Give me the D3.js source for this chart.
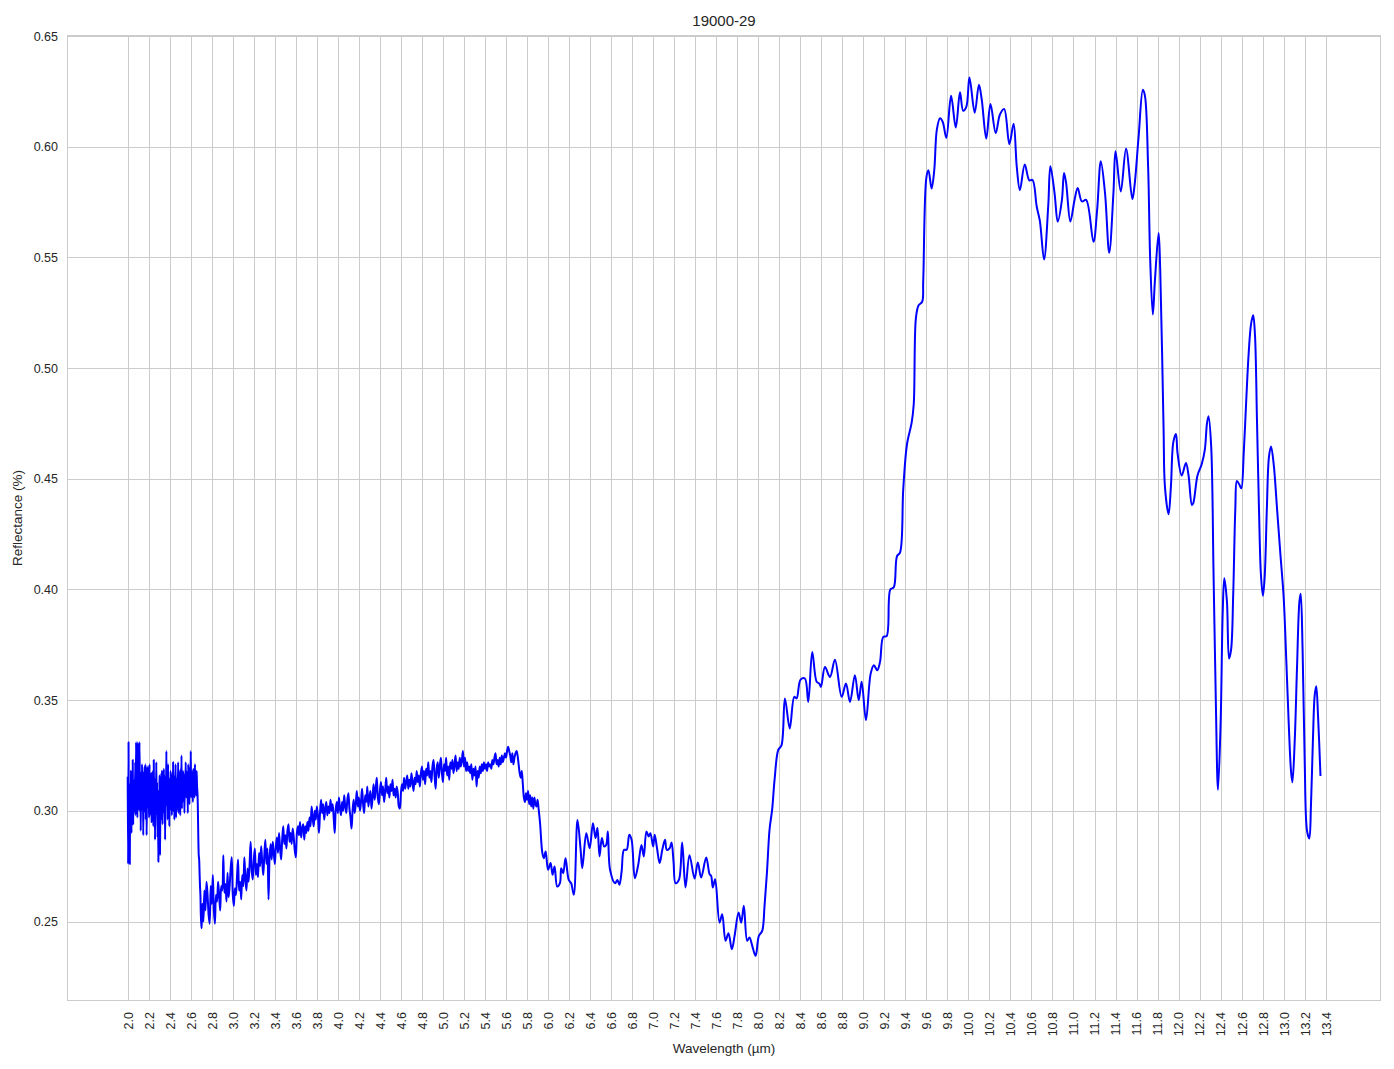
<!DOCTYPE html>
<html>
<head>
<meta charset="utf-8">
<script src="https://cdn.jsdelivr.net/npm/d3@7"></script>
<style>
  html, body { margin: 0; padding: 0; background: #ffffff; }
  svg { display: block; font-family: "Liberation Sans", Arial, sans-serif; }
</style>
</head>
<body>
<svg id="chart" width="1394" height="1069"></svg>
<script>
const chartTitle = "19000-29";
const xLabel = "Wavelength (µm)";
const yLabel = "Reflectance (%)";

const xTickValues = [2.0,2.2,2.4,2.6,2.8,3.0,3.2,3.4,3.6,3.8,4.0,4.2,4.4,4.6,4.8,5.0,5.2,5.4,5.6,5.8,6.0,6.2,6.4,6.6,6.8,7.0,7.2,7.4,7.6,7.8,8.0,8.2,8.4,8.6,8.8,9.0,9.2,9.4,9.6,9.8,10.0,10.2,10.4,10.6,10.8,11.0,11.2,11.4,11.6,11.8,12.0,12.2,12.4,12.6,12.8,13.0,13.2,13.4];
const yTickValues = [0.25,0.30,0.35,0.40,0.45,0.50,0.55,0.60,0.65];

// [wavelength (µm), reflectance]
const band1 = [
[2.000,0.315],[2.004,0.276],[2.008,0.331],[2.012,0.277],[2.016,0.300],[2.020,0.276],[2.024,0.312],[2.028,0.296],[2.032,0.318],[2.036,0.290],
[2.040,0.312],[2.044,0.297],[2.048,0.323],[2.052,0.294],[2.056,0.307],[2.060,0.299],[2.064,0.314],[2.068,0.301],[2.072,0.322],[2.076,0.298],
[2.080,0.331],[2.084,0.303],[2.088,0.318],[2.092,0.297],[2.096,0.331],[2.100,0.305],[2.104,0.325],[2.108,0.300],[2.112,0.331],[2.116,0.308],
[2.120,0.318],[2.124,0.291],[2.128,0.316],[2.132,0.300],[2.136,0.321],[2.140,0.303],[2.144,0.318],[2.148,0.289],[2.152,0.312],[2.156,0.299],
[2.160,0.320],[2.164,0.302],[2.168,0.321],[2.172,0.296],[2.176,0.320],[2.180,0.289],[2.184,0.311],[2.188,0.301],[2.192,0.320],[2.196,0.306],
[2.200,0.315],[2.204,0.297],[2.208,0.321],[2.212,0.299],[2.216,0.314],[2.220,0.298],[2.224,0.317],[2.228,0.295],[2.232,0.312],[2.236,0.297],
[2.240,0.318],[2.244,0.293],[2.248,0.323],[2.252,0.300],[2.256,0.315],[2.260,0.287],[2.264,0.312],[2.268,0.298],[2.272,0.322],[2.276,0.301],
[2.280,0.313],[2.284,0.288],[2.288,0.306],[2.292,0.277],[2.296,0.309],[2.300,0.300],[2.304,0.316],[2.308,0.280],[2.312,0.310],[2.316,0.302],
[2.320,0.317],[2.324,0.296],[2.328,0.318],[2.332,0.294],[2.336,0.310],[2.340,0.299],[2.344,0.319],[2.348,0.300],[2.352,0.316],[2.356,0.287],
[2.360,0.313],[2.364,0.302],[2.368,0.327],[2.372,0.303],[2.376,0.317],[2.380,0.296],[2.384,0.321],[2.388,0.301],[2.392,0.315],[2.396,0.293],
[2.400,0.312],[2.404,0.300],[2.408,0.318],[2.412,0.303],[2.416,0.314],[2.420,0.298],[2.424,0.317],[2.428,0.302],[2.432,0.322],[2.436,0.300],
[2.440,0.316],[2.444,0.296],[2.448,0.313],[2.452,0.305],[2.456,0.321],[2.460,0.297],[2.464,0.310],[2.468,0.300],[2.472,0.315],[2.476,0.303],
[2.480,0.322],[2.484,0.299],[2.488,0.318],[2.492,0.302],[2.496,0.312],[2.500,0.298],[2.504,0.319],[2.508,0.303],[2.512,0.325],[2.516,0.301],
[2.520,0.316],[2.524,0.304],[2.528,0.318],[2.532,0.305],[2.536,0.313],[2.540,0.299],[2.544,0.317],[2.548,0.308],[2.552,0.322],[2.556,0.306],
[2.560,0.318],[2.564,0.309],[2.568,0.316],[2.572,0.299],[2.576,0.321],[2.580,0.305],[2.584,0.314],[2.588,0.303],[2.592,0.320],[2.596,0.307],
[2.600,0.327],[2.604,0.306],[2.608,0.318],[2.612,0.310],[2.616,0.315],[2.620,0.304],[2.624,0.319],[2.628,0.307],[2.632,0.316],[2.636,0.306],
[2.640,0.321],[2.644,0.309],[2.648,0.315],[2.652,0.307],[2.656,0.318],[2.660,0.311],[2.664,0.308],[2.668,0.300],[2.672,0.288],[2.676,0.280],
[2.680,0.278],[2.684,0.272],[2.688,0.266],[2.692,0.262],[2.696,0.253],[2.700,0.249],[2.704,0.247]
];

const band2 = [
[2.71,0.258],[2.72,0.250],[2.73,0.264],[2.74,0.255],[2.75,0.268],[2.76,0.262],[2.77,0.253],[2.78,0.249],[2.79,0.266],[2.80,0.258],
[2.81,0.271],[2.82,0.255],[2.83,0.249],[2.84,0.262],[2.85,0.259],[2.86,0.268],[2.87,0.262],[2.88,0.255],[2.89,0.266],[2.90,0.264],
[2.91,0.280],[2.92,0.263],[2.93,0.267],[2.94,0.259],[2.95,0.272],[2.96,0.261],[2.97,0.266],[2.98,0.274],[2.99,0.279],[3.00,0.262],
[3.01,0.257],[3.02,0.265],[3.03,0.262],[3.04,0.270],[3.05,0.278],[3.06,0.264],[3.07,0.268],[3.08,0.260],[3.09,0.271],[3.10,0.266],
[3.11,0.279],[3.12,0.269],[3.13,0.264],[3.14,0.274],[3.15,0.268],[3.16,0.276],[3.17,0.286],[3.18,0.273],[3.19,0.269],[3.20,0.278],
[3.21,0.283],[3.22,0.271],[3.23,0.276],[3.24,0.270],[3.25,0.281],[3.26,0.275],[3.27,0.284],[3.28,0.277],[3.29,0.271],[3.30,0.280],
[3.31,0.287],[3.32,0.276],[3.33,0.283],[3.34,0.260],[3.35,0.279],[3.36,0.285],[3.37,0.278],[3.38,0.286],[3.39,0.281],[3.40,0.276],
[3.41,0.284],[3.42,0.288],[3.43,0.281],[3.44,0.290],[3.45,0.283],[3.46,0.278],[3.47,0.287],[3.48,0.293],[3.49,0.285],[3.50,0.289],
[3.51,0.283],[3.52,0.291],[3.53,0.294],[3.54,0.286],[3.55,0.290],[3.56,0.285],[3.57,0.292],[3.58,0.288],[3.59,0.282],[3.60,0.279],
[3.61,0.290],[3.62,0.293],[3.63,0.289],[3.64,0.295],[3.65,0.288],[3.66,0.292],[3.67,0.294],[3.68,0.287],[3.69,0.293],[3.70,0.290],
[3.71,0.295],[3.72,0.291],[3.73,0.297],[3.74,0.293],[3.75,0.302],[3.76,0.297],[3.77,0.293],[3.78,0.300],[3.79,0.296],[3.80,0.302],
[3.81,0.298],[3.82,0.290],[3.83,0.299],[3.84,0.305],[3.85,0.299],[3.86,0.303],[3.87,0.296],[3.88,0.301],[3.89,0.304],[3.90,0.298],
[3.91,0.302],[3.92,0.299],[3.93,0.305],[3.94,0.300],[3.95,0.303],[3.96,0.297],[3.97,0.290],[3.98,0.301],[3.99,0.304],[4.00,0.299]
];

const band3 = [
[4.01,0.306],[4.02,0.301],[4.03,0.298],[4.04,0.304],[4.05,0.300],[4.06,0.307],[4.07,0.302],[4.08,0.299],[4.09,0.305],[4.10,0.308],
[4.11,0.301],[4.12,0.297],[4.13,0.292],[4.14,0.300],[4.15,0.305],[4.16,0.299],[4.17,0.303],[4.18,0.309],[4.19,0.302],[4.20,0.306],
[4.21,0.300],[4.22,0.304],[4.23,0.310],[4.24,0.303],[4.25,0.299],[4.26,0.307],[4.27,0.304],[4.28,0.311],[4.29,0.302],[4.30,0.306],
[4.31,0.309],[4.32,0.301],[4.33,0.306],[4.34,0.312],[4.35,0.305],[4.36,0.310],[4.37,0.315],[4.38,0.306],[4.39,0.303],[4.40,0.309],
[4.41,0.313],[4.42,0.307],[4.43,0.311],[4.44,0.304],[4.45,0.309],[4.46,0.315],[4.47,0.308],[4.48,0.311],[4.49,0.306],[4.50,0.312],
[4.51,0.309],[4.52,0.314],[4.53,0.307],[4.54,0.310],[4.55,0.306],[4.56,0.311],[4.57,0.308],[4.58,0.302],[4.59,0.301],[4.60,0.308],
[4.61,0.312],[4.62,0.309],[4.63,0.315],[4.64,0.310],[4.65,0.313],[4.66,0.316],[4.67,0.310],[4.68,0.314],[4.69,0.311],[4.70,0.317],
[4.71,0.313],[4.72,0.309],[4.73,0.315],[4.74,0.312],[4.75,0.318],[4.76,0.313],[4.77,0.316],[4.78,0.311],[4.79,0.317],[4.80,0.320],
[4.81,0.314],[4.82,0.318],[4.83,0.312],[4.84,0.319],[4.85,0.316],[4.86,0.322],[4.87,0.315],[4.88,0.318],[4.89,0.313],[4.90,0.320],
[4.91,0.323],[4.92,0.316],[4.93,0.310],[4.94,0.319],[4.95,0.322],[4.96,0.315],[4.97,0.320],[4.98,0.324],[4.99,0.317],[5.00,0.313],
[5.01,0.321],[5.02,0.318],[5.03,0.324],[5.04,0.316],[5.05,0.320],[5.06,0.314],[5.07,0.322],[5.08,0.319],[5.09,0.323],[5.10,0.317],
[5.11,0.321],[5.12,0.325],[5.13,0.318],[5.14,0.322],[5.15,0.319],[5.16,0.324],[5.17,0.320],[5.18,0.323],[5.19,0.327],[5.20,0.320],
[5.21,0.324],[5.22,0.318],[5.23,0.322],[5.24,0.318],[5.25,0.320],[5.26,0.317],[5.27,0.321],[5.28,0.314],[5.29,0.319],[5.30,0.316],
[5.31,0.320],[5.32,0.311],[5.33,0.318],[5.34,0.315],[5.35,0.320],[5.36,0.317],[5.37,0.321],[5.38,0.318],[5.39,0.322],[5.40,0.319],
[5.41,0.321],[5.42,0.318],[5.43,0.322],[5.44,0.320],[5.45,0.321],[5.46,0.319],[5.47,0.323],[5.48,0.321],[5.49,0.324],[5.50,0.326],
[5.51,0.321],[5.52,0.323],[5.53,0.320],[5.54,0.324],[5.55,0.321],[5.56,0.325],[5.57,0.322],[5.58,0.324],[5.59,0.326],[5.60,0.324],
[5.61,0.327],[5.62,0.329],[5.63,0.327],[5.64,0.325],[5.65,0.322],[5.66,0.326],[5.67,0.321],[5.68,0.324],[5.69,0.326],[5.70,0.327],
[5.71,0.325],[5.72,0.321],[5.73,0.317],[5.74,0.315],[5.75,0.318],[5.76,0.312],[5.77,0.306],[5.78,0.304],[5.79,0.308],[5.80,0.305],
[5.81,0.309],[5.82,0.303],[5.83,0.307],[5.84,0.302],[5.85,0.306],[5.86,0.301],[5.87,0.306],[5.88,0.303],[5.89,0.302],[5.90,0.305],
[5.91,0.301]
];

const band4 = [
[5.924,0.2944],[5.946,0.2809],[5.960,0.2786],[5.977,0.2816],[6.000,0.2734],[6.024,0.2764],[6.043,0.2711],[6.062,0.2749],[6.087,0.2658],[6.113,0.2673],
[6.125,0.2741],[6.144,0.2718],[6.166,0.2786],[6.197,0.2688],[6.220,0.2673],[6.245,0.2621],[6.280,0.2959],[6.310,0.2824],[6.326,0.2741],[6.364,0.2899],
[6.396,0.2831],[6.427,0.2944],[6.452,0.2877],[6.470,0.2922],[6.490,0.2794],[6.512,0.2877],[6.534,0.2839],[6.553,0.2846],[6.569,0.2907],[6.590,0.2734],
[6.638,0.2673],[6.660,0.2688],[6.679,0.2666],[6.700,0.2726],[6.723,0.2824],[6.748,0.2824],[6.773,0.2892],[6.795,0.2869],[6.826,0.2696],[6.858,0.2756],
[6.889,0.2846],[6.911,0.2794],[6.936,0.2907],[6.958,0.2884],[6.974,0.2899],[7.000,0.2839],[7.015,0.2892],[7.037,0.2831],[7.062,0.2764],[7.087,0.2824],
[7.113,0.2869],[7.130,0.2824],[7.157,0.2831],[7.175,0.2857],[7.194,0.2771],[7.213,0.2673],[7.245,0.2688],[7.276,0.2857],[7.308,0.2654],[7.346,0.2800],
[7.394,0.2694],[7.425,0.2767],[7.457,0.2699],[7.505,0.2789],[7.537,0.2714],[7.552,0.2706],[7.568,0.2654],[7.590,0.2691],[7.632,0.2495],[7.657,0.2533],
[7.689,0.2413],[7.717,0.2447],[7.749,0.2375],[7.775,0.2435],[7.813,0.2541],[7.838,0.2495],[7.863,0.2571],[7.895,0.2413],[7.917,0.2428],[7.943,0.2390],
[7.975,0.2345],[8.006,0.2435],[8.038,0.2458],[8.060,0.2571],[8.083,0.2721],[8.108,0.2917],[8.133,0.3008],[8.156,0.3143],[8.190,0.3274],[8.222,0.3297],
[8.254,0.3508],[8.300,0.3372],[8.343,0.3515],[8.365,0.3508],[8.403,0.3593],[8.444,0.3598],[8.476,0.3492],[8.514,0.3718],[8.556,0.3583],[8.581,0.3575],
[8.597,0.3560],[8.635,0.3650],[8.683,0.3605],[8.730,0.3683],[8.794,0.3515],[8.835,0.3575],[8.873,0.3492],[8.920,0.3613],[8.956,0.3500],[8.984,0.3583],
[9.025,0.3410],[9.070,0.3620],[9.100,0.3658],[9.133,0.3635],[9.159,0.3673],[9.190,0.3786],[9.222,0.3789],[9.257,0.4000],[9.290,0.4010],[9.320,0.4150],
[9.350,0.4168],[9.380,0.4453],[9.415,0.4654],[9.460,0.4754],[9.480,0.4838],[9.500,0.5224],[9.525,0.5283],[9.560,0.5300],[9.570,0.5392],[9.600,0.5861],
[9.620,0.5894],[9.650,0.5811],[9.675,0.5894],[9.700,0.6079],[9.730,0.6129],[9.756,0.6112],[9.790,0.6040],[9.835,0.6230],[9.880,0.6087],[9.920,0.6246],
[9.950,0.6163],[9.980,0.6180],[10.010,0.6313],[10.060,0.6154],[10.100,0.6280],[10.127,0.6213],[10.170,0.6037],[10.210,0.6193],[10.260,0.6062],[10.300,0.6146],
[10.340,0.6171],[10.390,0.6012],[10.430,0.6104],[10.460,0.5911],[10.490,0.5804],[10.536,0.5920],[10.580,0.5848],[10.610,0.5850],[10.650,0.5730],[10.680,0.5665],
[10.720,0.5491],[10.760,0.5736],[10.780,0.5912],[10.820,0.5790],[10.850,0.5662],[10.890,0.5760],[10.910,0.5882],[10.930,0.5836],[10.970,0.5662],[11.010,0.5760],
[11.040,0.5814],[11.080,0.5753],[11.120,0.5760],[11.190,0.5571],[11.225,0.5715],[11.260,0.5935],[11.300,0.5791],[11.340,0.5521],[11.380,0.5791],[11.400,0.5980],
[11.450,0.5798],[11.500,0.5991],[11.560,0.5764],[11.580,0.5821],[11.620,0.6048],[11.660,0.6258],[11.680,0.6230],[11.710,0.5912],[11.730,0.5488],[11.755,0.5242],
[11.775,0.5397],[11.810,0.5610],[11.825,0.5450],[11.857,0.4733],[11.870,0.4465],[11.905,0.4340],[11.927,0.4465],[11.950,0.4666],[11.975,0.4703],[11.990,0.4616],
[12.030,0.4515],[12.070,0.4571],[12.095,0.4515],[12.127,0.4382],[12.140,0.4390],[12.180,0.4515],[12.220,0.4566],[12.250,0.4632],[12.270,0.4749],[12.285,0.4783],
[12.310,0.4649],[12.333,0.4064],[12.355,0.3480],[12.375,0.3095],[12.400,0.3396],[12.420,0.3897],[12.435,0.4051],[12.460,0.3947],[12.480,0.3688],[12.500,0.3730],
[12.520,0.3981],[12.540,0.4365],[12.555,0.4490],[12.578,0.4474],[12.597,0.4457],[12.620,0.4616],[12.645,0.4866],[12.667,0.5067],[12.690,0.5200],[12.710,0.5239],
[12.727,0.5150],[12.746,0.4766],[12.765,0.4365],[12.784,0.4064],[12.803,0.3972],[12.820,0.4064],[12.840,0.4365],[12.860,0.4599],[12.880,0.4646],[12.905,0.4566],
[12.937,0.4365],[12.968,0.4165],[13.000,0.3964],[13.025,0.3680],[13.048,0.3396],[13.070,0.3179],[13.083,0.3129],[13.105,0.3313],[13.127,0.3647],[13.150,0.3947],
[13.162,0.3981],[13.180,0.3730],[13.200,0.3229],[13.222,0.2911],[13.244,0.2875],[13.260,0.3028],[13.280,0.3346],[13.295,0.3521],[13.310,0.3563],[13.327,0.3430],
[13.350,0.3162]
];

const spectrum = band1.concat(band2, band3, band4);

const plot = { left: 67, right: 1381, top: 35, bottom: 1001 };
const svg = d3.select("#chart");

const x = d3.scaleLinear().domain([1.4224, 13.9262]).range([plot.left, plot.right]);
const y = d3.scaleLinear().domain([0.2141, 0.6505]).range([plot.bottom, plot.top]);

const gridColor = "#cccccc";
const textColor = "#262626";
const fontFam = '"Liberation Sans", Arial, sans-serif';

// grid
const grid = svg.append("g");
grid.selectAll("line.vx").data(xTickValues).join("line")
  .attr("x1", d => Math.round(x(d)) + 0.5).attr("x2", d => Math.round(x(d)) + 0.5)
  .attr("y1", plot.top).attr("y2", plot.bottom)
  .attr("stroke", gridColor).attr("stroke-width", 1);
grid.selectAll("line.hy").data(yTickValues).join("line")
  .attr("y1", d => Math.round(y(d)) + 0.5).attr("y2", d => Math.round(y(d)) + 0.5)
  .attr("x1", plot.left).attr("x2", plot.right)
  .attr("stroke", gridColor).attr("stroke-width", 1);

// axes (labels only)
const xAxis = d3.axisBottom(x).tickValues(xTickValues).tickFormat(d3.format(".1f")).tickSize(0).tickPadding(0);
const gx = svg.append("g").attr("transform", `translate(0,${plot.bottom})`).call(xAxis);
gx.select(".domain").remove();
gx.selectAll("text")
  .attr("transform", "rotate(-90)")
  .attr("x", -11).attr("y", 0).attr("dy", "0.35em")
  .style("text-anchor", "end")
  .attr("fill", textColor).attr("font-size", 12.5).attr("font-family", fontFam);

const yAxis = d3.axisLeft(y).tickValues(yTickValues).tickFormat(d3.format(".2f")).tickSize(0).tickPadding(9);
const gy = svg.append("g").attr("transform", `translate(${plot.left},0)`).call(yAxis);
gy.select(".domain").remove();
gy.selectAll("text").attr("fill", textColor).attr("font-size", 12.5).attr("font-family", fontFam);

// frame
svg.append("rect")
  .attr("x", plot.left + 0.5).attr("y", plot.top + 0.5)
  .attr("width", plot.right - plot.left - 1).attr("height", plot.bottom - plot.top - 1)
  .attr("fill", "none").attr("stroke", gridColor).attr("stroke-width", 1);

// spectrum line
const line = d3.line()
  .x(d => x(d[0])).y(d => y(d[1]))
  .curve(d3.curveCatmullRom.alpha(0.5));
svg.append("path").datum(spectrum)
  .attr("d", line)
  .attr("fill", "none").attr("stroke", "#0000ff").attr("stroke-width", 2)
  .attr("stroke-linejoin", "round").attr("stroke-linecap", "square");

// titles
svg.append("text").attr("x", (plot.left + plot.right) / 2).attr("y", 26)
  .attr("text-anchor", "middle").attr("font-size", 15).attr("fill", textColor).attr("font-family", fontFam)
  .text(chartTitle);
svg.append("text").attr("x", (plot.left + plot.right) / 2).attr("y", 1053)
  .attr("text-anchor", "middle").attr("font-size", 13.5).attr("fill", textColor).attr("font-family", fontFam)
  .text(xLabel);
svg.append("text").attr("transform", `translate(22,${(plot.top + plot.bottom) / 2}) rotate(-90)`)
  .attr("text-anchor", "middle").attr("font-size", 13.5).attr("fill", textColor).attr("font-family", fontFam)
  .text(yLabel);
</script>
</body>
</html>
